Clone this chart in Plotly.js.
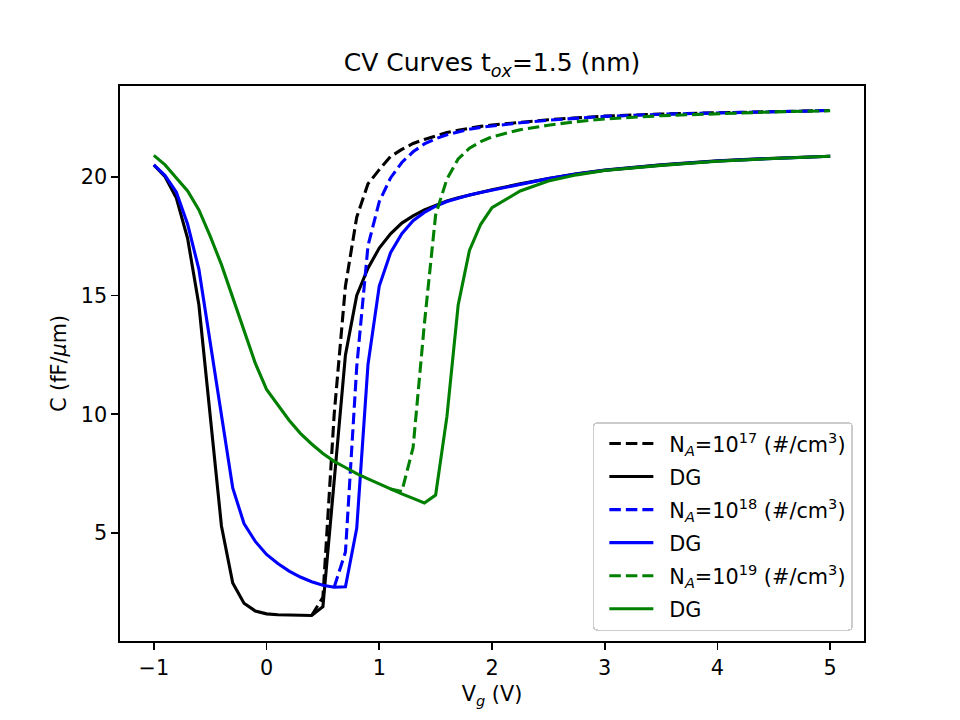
<!DOCTYPE html>
<html>
<head>
<meta charset="utf-8">
<script src="https://cdn.plot.ly/plotly-3.0.1.min.js"></script>
<style>html,body{margin:0;padding:0;background:#fff;}#chart{width:960px;height:720px;}</style>
</head>
<body>
<div id="chart"></div>
<script>
// Gate voltage grid for the DG (solid) curves
const vgDG = [-1.0,-0.9,-0.8,-0.7,-0.6,-0.5,-0.4,-0.3,-0.2,-0.1,0.0,0.1,0.2,0.3,0.4,0.5,0.6,0.7,0.8,0.9,1.0,
  1.1,1.2,1.3,1.4,1.5,1.6,1.7,1.8,1.9,2.0,2.25,2.5,2.75,3.0,3.5,4.0,4.5,5.0];

// DG curves (fF/um)
const cDG17 = [20.5,20.0,19.1,17.4,14.6,10.1,5.3,2.9,2.05,1.72,1.6,1.56,1.54,1.52,1.53,1.9,7.2,12.5,15.0,16.15,17.0,
  17.6,18.05,18.35,18.6,18.8,18.98,19.12,19.24,19.35,19.45,19.7,19.93,20.12,20.28,20.5,20.67,20.78,20.86];
const cDG18 = [20.5,20.05,19.35,18.0,16.1,13.0,9.8,6.9,5.4,4.65,4.1,3.72,3.4,3.15,2.95,2.8,2.72,2.74,5.2,12.1,15.4,
  16.8,17.6,18.15,18.5,18.76,18.96,19.11,19.23,19.34,19.44,19.69,19.92,20.11,20.27,20.49,20.66,20.77,20.86];
const cDG19 = [20.9,20.5,19.95,19.4,18.6,17.5,16.3,14.9,13.45,12.15,11.05,10.4,9.75,9.2,8.75,8.35,8.02,7.76,7.5,7.28,7.06,
  6.85,6.65,6.46,6.27,6.6,9.9,14.6,16.9,18.0,18.7,19.4,19.82,20.08,20.26,20.48,20.65,20.77,20.86];

// Doped (dashed) curves
const vg17 = [0.4,0.5,0.6,0.7,0.8,0.9,1.0,1.1,1.2,1.3,1.4,1.5,1.6,1.7,1.8,1.9,2.0,2.25,2.5,2.75,3.0,3.5,4.0,4.5,5.0];
const cNA17 = [1.53,2.3,10.0,15.4,18.3,19.7,20.3,20.85,21.15,21.4,21.57,21.73,21.86,21.96,22.05,22.12,22.18,22.3,22.4,22.48,22.55,22.64,22.7,22.75,22.79];
const vg18 = [0.6,0.7,0.8,0.9,1.0,1.1,1.2,1.3,1.4,1.5,1.6,1.7,1.8,1.9,2.0,2.25,2.5,2.75,3.0,3.5,4.0,4.5,5.0];
const cNA18 = [2.72,4.2,12.0,17.1,18.95,19.95,20.6,21.05,21.38,21.6,21.77,21.9,22.0,22.08,22.14,22.27,22.38,22.47,22.54,22.63,22.69,22.74,22.79];
const vg19 = [1.1,1.2,1.3,1.4,1.5,1.6,1.7,1.8,1.9,2.0,2.25,2.5,2.75,3.0,3.5,4.0,4.5,5.0];
const cNA19 = [6.85,6.75,8.6,13.8,18.4,19.9,20.75,21.2,21.48,21.68,21.98,22.17,22.32,22.43,22.57,22.66,22.73,22.78];

const xTicks = [-1,0,1,2,3,4,5];
const yTicks = [5,10,15,20];
const labels = ['N<sub><i>A</i></sub>=10<sup>17</sup> (#/cm<sup>3</sup>)','DG',
                'N<sub><i>A</i></sub>=10<sup>18</sup> (#/cm<sup>3</sup>)','DG',
                'N<sub><i>A</i></sub>=10<sup>19</sup> (#/cm<sup>3</sup>)','DG'];

const W = 3.1;
const DASH = '11.5px,5px';
const traces = [
  {x: vg17, y: cNA17, name: labels[0], legendgroup:'g0', mode:'lines', line:{color:'#000000', width:W, dash:DASH}},
  {x: vgDG, y: cDG17, name: labels[1], legendgroup:'g1', mode:'lines', line:{color:'#000000', width:W}},
  {x: vg18, y: cNA18, name: labels[2], legendgroup:'g2', mode:'lines', line:{color:'#0000ff', width:W, dash:DASH}},
  {x: vgDG, y: cDG18, name: labels[3], legendgroup:'g3', mode:'lines', line:{color:'#0000ff', width:W}},
  {x: vg19, y: cNA19, name: labels[4], legendgroup:'g4', mode:'lines', line:{color:'#008000', width:W, dash:DASH}},
  {x: vgDG, y: cDG19, name: labels[5], legendgroup:'g5', mode:'lines', line:{color:'#008000', width:W}}
];

const F = 'DejaVu Sans, sans-serif';
const axisCommon = {
  showline:true, mirror:true, linecolor:'#000000', linewidth:1.6,
  ticks:'outside', ticklen:7, tickwidth:1.6, tickcolor:'#000000',
  showgrid:false, zeroline:false, tickfont:{family:F, size:20.8, color:'#000000'},
  automargin:false
};

const layout = {
  width:960, height:720,
  margin:{l:120, r:96, t:86, b:79, pad:0},
  paper_bgcolor:'#ffffff', plot_bgcolor:'#ffffff',
  font:{family:F, color:'#000000'},
  title:{text:'CV Curves t<sub><i>ox</i></sub>=1.5 (nm)', font:{family:F, size:25, color:'#000000'},
         xref:'paper', x:0.5, xanchor:'center', yref:'container', y:0.913, yanchor:'middle'},
  xaxis: Object.assign({}, axisCommon, {
    range:[-1.3, 5.3], tickmode:'array', tickvals:xTicks, ticktext:xTicks.map(v => v < 0 ? '\u2212' + Math.abs(v) : String(v)),
    title:{text:'V<sub><i>g</i></sub> (V)', font:{family:F, size:20.8, color:'#000000'}, standoff:8}
  }),
  yaxis: Object.assign({}, axisCommon, {
    range:[0.457, 23.82], tickmode:'array', tickvals:yTicks, ticktext:yTicks.map(String),
    title:{text:'C (fF/<i>μ</i>m)', font:{family:F, size:20.8, color:'#000000'}, standoff:8}
  }),
  showlegend:true,
  legend:{x:0.985, xanchor:'right', y:0.018, yanchor:'bottom', traceorder:'grouped',
          bgcolor:'rgba(255,255,255,0.8)', bordercolor:'#cccccc', borderwidth:1.5,
          font:{family:F, size:20.8, color:'#000000'}, itemwidth:65, tracegroupgap:3}
};

Plotly.newPlot('chart', traces, layout, {staticPlot:true, displayModeBar:false}).then(function(gd){
  // lengthen legend handles to match the reference handle length
  gd.querySelectorAll('.legend .legendlines path').forEach(function(p){ p.setAttribute('d','M15,0h44'); });
  var bg = gd.querySelector('.legend rect.bg');
  if (bg) { bg.setAttribute('rx','4'); bg.setAttribute('ry','4'); }
});
</script>
</body>
</html>
